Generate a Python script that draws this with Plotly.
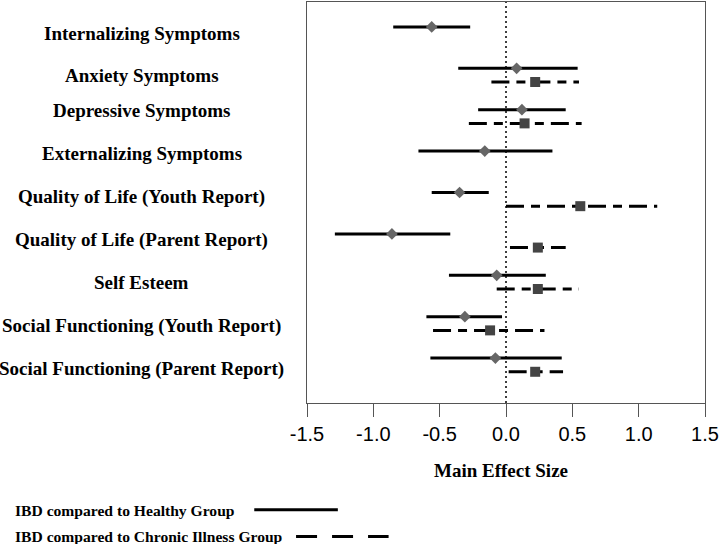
import plotly.graph_objects as go

categories = [
    "Internalizing Symptoms",
    "Anxiety Symptoms",
    "Depressive Symptoms",
    "Externalizing Symptoms",
    "Quality of Life (Youth Report)",
    "Quality of Life (Parent Report)",
    "Self Esteem",
    "Social Functioning (Youth Report)",
    "Social Functioning (Parent Report)",
]

healthy_est = [-0.56, 0.08, 0.12, -0.16, -0.35, -0.86, -0.07, -0.31, -0.08]
healthy_lo = [-0.85, -0.36, -0.21, -0.66, -0.56, -1.29, -0.43, -0.60, -0.57]
healthy_hi = [-0.27, 0.54, 0.45, 0.35, -0.13, -0.42, 0.30, -0.03, 0.42]

chronic_est = [None, 0.22, 0.14, None, 0.56, 0.24, 0.24, -0.12, 0.22]
chronic_lo = [None, -0.11, -0.28, None, 0.00, 0.03, -0.07, -0.55, 0.02]
chronic_hi = [None, 0.55, 0.57, None, 1.14, 0.45, 0.55, 0.29, 0.43]

x_tick_vals = [-1.5, -1.0, -0.5, 0.0, 0.5, 1.0, 1.5]
x_tick_text = ["-1.5", "-1.0", "-0.5", "0.0", "0.5", "1.0", "1.5"]

legend_labels = ["IBD compared to Healthy Group", "IBD compared to Chronic Illness Group"]
x_title = "Main Effect Size"

# styling / layout helpers
DASH_OFFSET = 0.33
label_offsets = [0.15, 0.18, 0.02, 0.06, 0.1, 0.14, 0.18, 0.22, 0.26]
SERIF = "Liberation Serif"
SANS = "Liberation Sans"

fig = go.Figure()

# healthy ranges
for i in range(len(categories)):
    fig.add_trace(go.Scatter(
        x=[healthy_lo[i], healthy_hi[i]], y=[i, i], mode="lines",
        line=dict(color="black", width=3), showlegend=False, hoverinfo="skip"))
# chronic ranges
for i in range(len(categories)):
    if chronic_est[i] is None:
        continue
    fig.add_trace(go.Scatter(
        x=[chronic_lo[i], chronic_hi[i]], y=[i + DASH_OFFSET] * 2, mode="lines",
        line=dict(color="black", width=3, dash="18px,7px,9px,7px"),
        showlegend=False, hoverinfo="skip"))

fig.add_trace(go.Scatter(
    x=healthy_est, y=list(range(len(categories))), mode="markers",
    marker=dict(symbol="diamond", size=9, color="#666666", line=dict(width=0)),
    showlegend=False))
ce_x = [v for v in chronic_est if v is not None]
ce_y = [i + DASH_OFFSET for i, v in enumerate(chronic_est) if v is not None]
fig.add_trace(go.Scatter(
    x=ce_x, y=ce_y, mode="markers",
    marker=dict(symbol="square", size=10, color="#444444", line=dict(width=0)),
    showlegend=False))

# zero reference line
fig.add_shape(type="line", xref="x", yref="paper", x0=0, x1=0, y0=0, y1=1,
              line=dict(color="black", width=1.5, dash="2px,3px"))

# category labels
for i, c in enumerate(categories):
    fig.add_annotation(text=c, xref="paper", yref="y", x=-0.415, y=i + label_offsets[i],
                       xanchor="center", yanchor="middle", showarrow=False,
                       font=dict(family=SERIF, size=19, color="black", weight="bold"))

# x title
fig.add_annotation(text=x_title, xref="paper", yref="paper", x=0.4875, y=-0.169,
                   xanchor="center", yanchor="middle", showarrow=False,
                   font=dict(family=SERIF, size=19, color="black", weight="bold"))

# legend
leg_y = [-0.269, -0.333]
for lab, ly in zip(legend_labels, leg_y):
    fig.add_annotation(text=lab, xref="paper", yref="paper", x=-0.7375, y=ly,
                       xanchor="left", yanchor="middle", showarrow=False,
                       font=dict(family=SERIF, size=15.6, color="black", weight="bold"))
fig.add_shape(type="line", xref="paper", yref="paper", x0=-0.1325, x1=0.0775,
              y0=-0.266, y1=-0.266, line=dict(color="black", width=3))
fig.add_shape(type="line", xref="paper", yref="paper", x0=-0.0275, x1=0.205,
              y0=-0.333, y1=-0.333, line=dict(color="black", width=3, dash="21px,15px"))

fig.update_layout(
    width=720, height=544,
    margin=dict(l=307, r=13, t=1, b=141),
    plot_bgcolor="white", paper_bgcolor="white",
    showlegend=False,
    xaxis=dict(range=[-1.5, 1.5], tickvals=x_tick_vals, ticktext=x_tick_text,
               ticks="outside", ticklen=13, tickcolor="#555555", tickwidth=1,
               showline=True, linecolor="#555555", linewidth=1, mirror=True,
               showgrid=False, zeroline=False, ticklabeloverflow="allow",
               tickfont=dict(family=SANS, size=20, color="black")),
    yaxis=dict(range=[9.084, -0.602], showticklabels=False, ticks="",
               showline=True, linecolor="#555555", linewidth=1, mirror=True,
               showgrid=False, zeroline=False),
)

fig.write_html("out.html", config={"displayModeBar": False},
               post_script="document.body.style.margin='0';document.body.style.overflow='hidden';")
